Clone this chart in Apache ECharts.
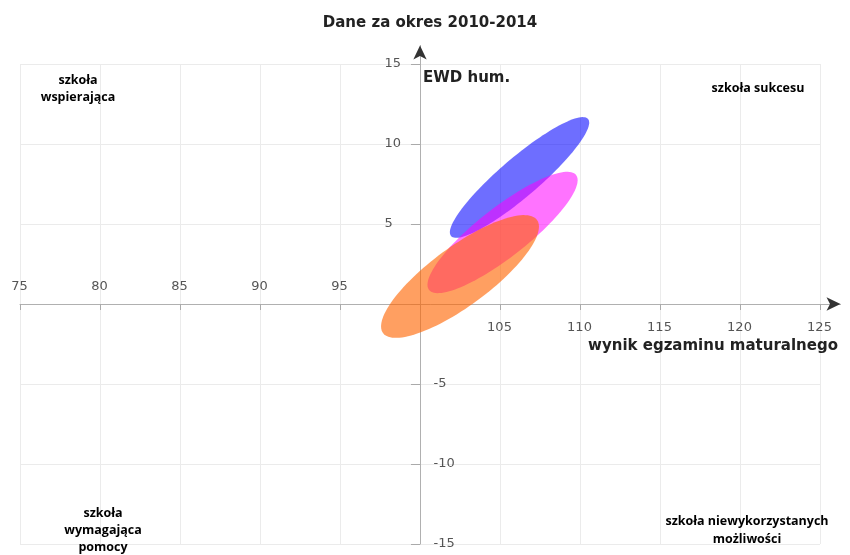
<!DOCTYPE html>
<html><head><meta charset="utf-8">
<script src="https://cdn.jsdelivr.net/npm/echarts@6/dist/echarts.min.js"></script>
<style>html,body{margin:0;padding:0;background:#fff}#c{width:850px;height:555px}</style>
</head><body><div id="c"></div>
<script>
// ---- data ----
const groupNames = ['grupa 1', 'grupa 2', 'grupa 3'];
const centerX = [106.22, 105.16, 102.5];
const centerY = [7.91, 4.47, 1.72];
const semiMajor = [5.63, 5.83, 5.97];
const semiMinor = [1.22, 1.55, 1.85];
const tiltDeg = [40.5, 38, 36.3];
const xTicks = [75, 80, 85, 90, 95, 105, 110, 115, 120, 125];
const yTicks = [15, 10, 5, -5, -10, -15];
const titleText = 'Dane za okres 2010-2014';
const yName = 'EWD hum.';
const xName = 'wynik egzaminu maturalnego';
const quadrantLabels = ['szkoła\nwspierająca', 'szkoła sukcesu', 'szkoła\nwymagająca\npomocy', 'szkoła niewykorzystanych\nmożliwości'];

// ---- chart ----
const fills = ['rgba(0,0,255,0.57)', 'rgba(255,0,255,0.55)', 'rgba(255,100,0,0.62)'];
const X0 = 75, X1 = 125, Y0 = -15, Y1 = 15;
const PX = 16; // px per unit
const gL = 20, gT = 64;
const gB = gT + (Y1 - Y0) * PX;           // 544
const extTop = 45.5, extRight = 840.5;
const extYMax = Y1 + (gT - extTop) / PX;
const extXMax = X1 + (extRight - (gL + (X1 - X0) * PX)) / PX;
const xAxisOffset = -(gB - (gT + (Y1 - 0) * PX));   // move x axis up to y = 0
const yAxisOffset = -((100 - X0) * PX);              // move y axis right to x = 100

const chart = echarts.init(document.getElementById('c'), null, {renderer: 'canvas'});
const tickFont = {fontFamily: 'DejaVu Sans', fontSize: 13, color: '#2a2a2a', textBorderWidth: 0, textShadowBlur: 0};

function ellipseData() {
  return groupNames.map((n, i) => ({name: n, value: [centerX[i], centerY[i], semiMajor[i], semiMinor[i], tiltDeg[i]]}));
}

const xLabelData = xTicks.map(v => ({
  value: [v, 0],
  label: {show: true, position: [0, 0], formatter: String(v), offset: [0, v < 100 ? -17 : 24], align: 'center', verticalAlign: 'middle', ...tickFont}
}));
const yLabelData = yTicks.map(v => ({
  value: [100, v],
  label: {show: true, position: [0, 0], formatter: String(v), offset: v > 0 ? [-35, 0] : [14, 0], align: 'left', verticalAlign: 'middle', ...tickFont}
}));

const baseAxis = {type: 'value', axisLabel: {show: false}, splitLine: {show: false}, axisTick: {show: false}};

const option = {
  backgroundColor: '#fff',
  animation: false,
  grid: [
    {left: gL, top: gT, width: (X1 - X0) * PX, height: (Y1 - Y0) * PX},
    {left: gL, top: extTop, width: extRight - gL, height: gB - extTop},
    {left: gL, top: extTop, width: extRight - gL, height: gB - extTop}
  ],
  xAxis: [
    {gridIndex: 0, type: 'value', min: X0, max: X1, interval: 5, position: 'bottom', offset: xAxisOffset,
      axisLine: {show: false, onZero: false}, axisLabel: {show: false},
      axisTick: {show: true, length: 6, lineStyle: {color: '#aaa'}},
      splitLine: {show: true, lineStyle: {color: '#ebebeb', width: 1}}},
    {...baseAxis, gridIndex: 1, min: X0, max: extXMax, position: 'bottom', offset: xAxisOffset,
      axisLine: {show: true, onZero: false, lineStyle: {color: '#b0b0b0', width: 1}}},
    {...baseAxis, gridIndex: 2, min: X0, max: extXMax, position: 'bottom', offset: xAxisOffset,
      axisLine: {show: true, onZero: false, symbol: ['none', 'arrow'], symbolSize: [10, 14], lineStyle: {color: '#333', width: 0}}}
  ],
  yAxis: [
    {gridIndex: 0, type: 'value', min: Y0, max: Y1, interval: 5, position: 'left', offset: yAxisOffset,
      axisLine: {show: false, onZero: false}, axisLabel: {show: false},
      axisTick: {show: true, length: 9, lineStyle: {color: '#aaa'}},
      splitLine: {show: true, lineStyle: {color: '#ebebeb', width: 1}}},
    {...baseAxis, gridIndex: 1, min: Y0, max: extYMax, position: 'left', offset: yAxisOffset,
      axisLine: {show: true, onZero: false, lineStyle: {color: '#b0b0b0', width: 1}}},
    {...baseAxis, gridIndex: 2, min: Y0, max: extYMax, position: 'left', offset: yAxisOffset,
      axisLine: {show: true, onZero: false, symbol: ['none', 'arrow'], symbolSize: [10, 14], lineStyle: {color: '#333', width: 0}}}
  ],
  series: [
    {
      type: 'custom', xAxisIndex: 0, yAxisIndex: 0, z: 5,
      data: ellipseData(),
      encode: {x: 0, y: 1},
      renderItem: function (params, api) {
        const cx = api.value(0), cy = api.value(1), a = api.value(2), b = api.value(3), t = api.value(4) * Math.PI / 180;
        const pts = [];
        const N = 120;
        for (let k = 0; k < N; k++) {
          const s = 2 * Math.PI * k / N;
          const x = cx + a * Math.cos(s) * Math.cos(t) - b * Math.sin(s) * Math.sin(t);
          const y = cy + a * Math.cos(s) * Math.sin(t) + b * Math.sin(s) * Math.cos(t);
          pts.push(api.coord([x, y]));
        }
        return {type: 'polygon', shape: {points: pts, smooth: 0}, style: {fill: fills[params.dataIndex], stroke: null}};
      }
    },
    {type: 'scatter', xAxisIndex: 0, yAxisIndex: 0, symbolSize: 1, itemStyle: {color: 'rgba(0,0,0,0)'}, silent: true, z: 6, data: xLabelData},
    {type: 'scatter', xAxisIndex: 0, yAxisIndex: 0, symbolSize: 1, itemStyle: {color: 'rgba(0,0,0,0)'}, silent: true, z: 6, data: yLabelData}
  ],
  graphic: [
    {type: 'text', x: 430, y: 23, z: 50, style: {text: titleText, font: 'bold 15px "DejaVu Sans"', fill: '#222', textAlign: 'center', textVerticalAlign: 'middle'}},
    {type: 'text', x: 423, y: 78, z: 50, style: {text: yName, font: 'bold 15px "DejaVu Sans"', fill: '#222', textAlign: 'left', textVerticalAlign: 'middle'}},
    {type: 'text', x: 838, y: 346, z: 50, style: {text: xName, font: 'bold 15px "DejaVu Sans"', fill: '#222', textAlign: 'right', textVerticalAlign: 'middle'}},
    {type: 'text', x: 78, y: 88.5, z: 50, style: {text: quadrantLabels[0], font: 'bold 12.5px "Open Sans"', lineHeight: 17, fill: '#000', textAlign: 'center', textVerticalAlign: 'middle'}},
    {type: 'text', x: 758, y: 88, z: 50, style: {text: quadrantLabels[1], font: 'bold 12.5px "Open Sans"', lineHeight: 17, fill: '#000', textAlign: 'center', textVerticalAlign: 'middle'}},
    {type: 'text', x: 103, y: 530, z: 50, style: {text: quadrantLabels[2], font: 'bold 12.5px "Open Sans"', lineHeight: 17, fill: '#000', textAlign: 'center', textVerticalAlign: 'middle'}},
    {type: 'text', x: 747, y: 530, z: 50, style: {text: quadrantLabels[3], font: 'bold 12.5px "Open Sans"', lineHeight: 18, fill: '#000', textAlign: 'center', textVerticalAlign: 'middle'}}
  ]
};
chart.setOption(option);
</script></body></html>
